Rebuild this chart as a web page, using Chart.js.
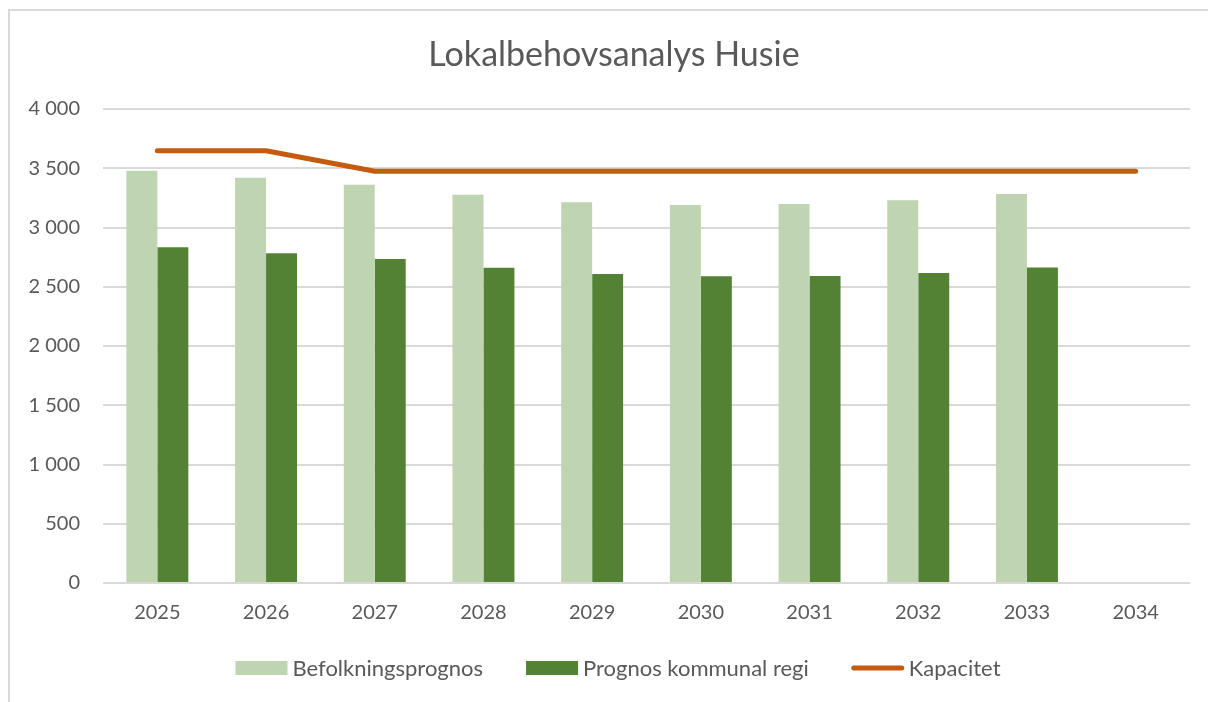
<!DOCTYPE html>
<html>
<head>
<meta charset="utf-8">
<script src="https://cdn.jsdelivr.net/npm/chart.js@4.4.1/dist/chart.umd.min.js"></script>
<style>
html,body{margin:0;padding:0;background:#fff;overflow:hidden}
#wrap{position:absolute;left:0;top:0;width:1208px;height:702px}
#frame{position:absolute;left:8px;top:9px;width:1200px;height:693px;border-top:2px solid #D9D9D9;border-left:2px solid #D9D9D9;box-sizing:border-box;pointer-events:none}
canvas{position:absolute;left:0;top:0}
</style>
</head>
<body>
<div id="wrap"><canvas id="c" width="1208" height="702"></canvas><div id="frame"></div></div>
<script>
const chartTitle = 'Lokalbehovsanalys Husie';
const categories = ['2025','2026','2027','2028','2029','2030','2031','2032','2033','2034'];
const seriesLabels = ['Befolkningsprognos','Prognos kommunal regi','Kapacitet'];
const befolkningsprognos = [3479,3420,3361,3277,3213,3190,3198,3230,3283,null];
const prognosKommunalRegi = [2833,2782,2734,2661,2608,2589,2591,2617,2662,null];
const kapacitet = [3648,3648,3474,3474,3474,3474,3474,3474,3474,3474];
const yTicks = [0,500,1000,1500,2000,2500,3000,3500,4000];

const TEXT = '#595959';
const FONT = 'Lato';

function fmt(v){ return String(v).replace(/\B(?=(\d{3})+(?!\d))/g,' '); }

const titlePlugin = {
  id:'customTitle',
  afterDraw(chart){
    const ctx = chart.ctx;
    ctx.save();
    ctx.fillStyle = TEXT;
    ctx.font = '34px ' + FONT;
    ctx.textAlign = 'center';
    ctx.textBaseline = 'middle';
    ctx.fillText(chartTitle, 614, 55);
    ctx.restore();
  }
};

const legendPlugin = {
  id:'customLegend',
  afterDraw(chart){
    const ctx = chart.ctx;
    ctx.save();
    ctx.font = '22px ' + FONT;
    ctx.textBaseline = 'middle';
    ctx.textAlign = 'left';
    const boxW = 52, boxH = 14, gap = 5, itemGap = 43, cy = 668, cx = 618;
    const items = chart.data.datasets.map(ds => ({
      text: ds.label,
      color: ds.type === 'line' ? ds.borderColor : ds.backgroundColor,
      line: ds.type === 'line'
    }));
    let total = 0;
    items.forEach((it,i) => { it.w = boxW + gap + ctx.measureText(it.text).width; total += it.w + (i ? itemGap : 0); });
    let x = cx - total/2;
    items.forEach(it => {
      if (it.line) {
        ctx.strokeStyle = it.color; ctx.lineWidth = 5; ctx.lineCap = 'round';
        ctx.beginPath(); ctx.moveTo(x + 2, cy); ctx.lineTo(x + boxW - 2, cy); ctx.stroke();
      } else {
        ctx.fillStyle = it.color;
        ctx.fillRect(x, cy - boxH/2, boxW, boxH);
      }
      ctx.fillStyle = TEXT;
      ctx.fillText(it.text, x + boxW + gap, cy + 1);
      x += it.w + itemGap;
    });
    ctx.restore();
  }
};

new Chart(document.getElementById('c'), {
  data: {
    labels: categories,
    datasets: [
      { type:'bar', label: seriesLabels[0], data: befolkningsprognos, backgroundColor:'#BFD5B2', borderWidth:0, order:2,
        categoryPercentage:0.57, barPercentage:1 },
      { type:'bar', label: seriesLabels[1], data: prognosKommunalRegi, backgroundColor:'#548235', borderWidth:0, order:2,
        categoryPercentage:0.57, barPercentage:1 },
      { type:'line', label: seriesLabels[2], data: kapacitet, borderColor:'#C55A11', backgroundColor:'#C55A11',
        borderWidth:5, borderCapStyle:'round', borderJoinStyle:'round', pointRadius:0, tension:0, fill:false, order:1 }
    ]
  },
  options: {
    responsive:false,
    animation:false,
    devicePixelRatio:1,
    layout:{ padding:{ left:10, right:18, top:109, bottom:59 } },
    plugins:{ legend:{display:false}, title:{display:false}, tooltip:{enabled:false} },
    scales:{
      x:{
        grid:{display:false, drawTicks:false},
        border:{display:false},
        ticks:{ color:TEXT, font:{family:FONT, size:20}, padding:18 }
      },
      y:{
        min:0, max:4000,
        afterBuildTicks: s => { s.ticks = yTicks.map(v => ({value:v})); },
        afterFit: s => { s.width = 93; },
        grid:{ color:'#D9D9D9', lineWidth:2, drawTicks:false },
        border:{display:false},
        ticks:{ color:TEXT, font:{family:FONT, size:20}, padding:23, callback: v => fmt(v) }
      }
    }
  },
  plugins:[titlePlugin, legendPlugin]
});
</script>
</body>
</html>
